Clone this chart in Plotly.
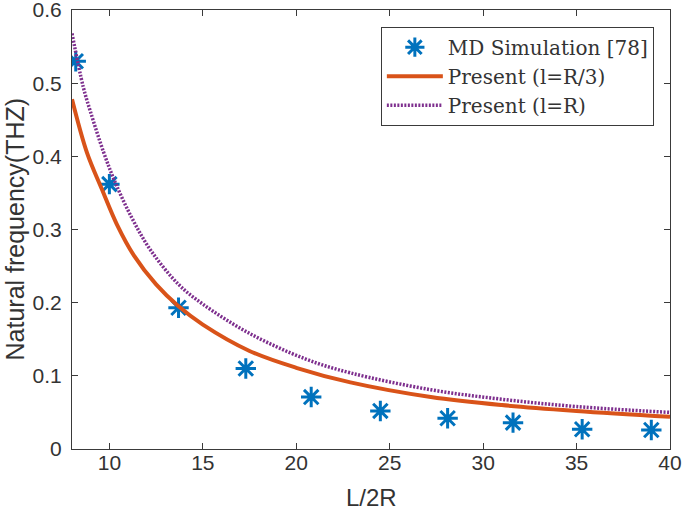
import plotly.graph_objects as go

# MD simulation data
md_x = [8.2, 10.0, 13.7, 17.3, 20.8, 24.5, 28.1, 31.6, 35.3, 39.0]
md_y = [0.530, 0.362, 0.193, 0.110, 0.071, 0.052, 0.042, 0.036, 0.027, 0.026]

# Present (l=R/3)
red_x = [8.0, 8.8, 9.6, 10.4, 11.3, 12.5, 13.7, 15.0, 17.5, 20.0, 22.9, 27.2, 31.0, 35.0, 40.0]
red_y = [0.478, 0.405, 0.355, 0.307, 0.265, 0.225, 0.195, 0.170, 0.134, 0.111, 0.091, 0.071, 0.060, 0.052, 0.044]

# Present (l=R)
pur_x = [8.0, 8.6, 9.0, 9.7, 10.3, 11.2, 12.2, 13.7, 15.0, 17.5, 20.5, 22.9, 27.2, 31.0, 35.0, 40.0]
pur_y = [0.568, 0.495, 0.460, 0.405, 0.365, 0.316, 0.272, 0.225, 0.198, 0.158, 0.123, 0.104, 0.081, 0.068, 0.058, 0.050]

x_ticks = [10, 15, 20, 25, 30, 35, 40]
y_ticks = [0, 0.1, 0.2, 0.3, 0.4, 0.5, 0.6]

x_title = "L/2R"
y_title = "Natural frequency(THZ)"

fig = go.Figure()
fig.add_trace(go.Scatter(
    x=md_x, y=md_y, mode="markers", name="MD Simulation [78]",
    marker=dict(symbol="asterisk-open", size=17, color="#0072BD",
                line=dict(color="#0072BD", width=3)),
))
fig.add_trace(go.Scatter(
    x=red_x, y=red_y, mode="lines", name="Present (l=R/3)",
    line=dict(color="#D95319", width=4, shape="spline"),
))
fig.add_trace(go.Scatter(
    x=pur_x, y=pur_y, mode="lines", name="Present (l=R)",
    line=dict(color="#7E2F8E", width=3.5, dash="2px,1.5px", shape="spline"),
))

sans = "Liberation Sans, Arial, sans-serif"
axis_common = dict(
    showline=True, linecolor="#3a3a3a", linewidth=1.2, mirror="ticks",
    ticks="inside", ticklen=6, tickcolor="#3a3a3a",
    showgrid=False, zeroline=False, automargin=False,
    ticklabeloverflow="allow",
    tickfont=dict(family=sans, size=21, color="#333333"),
)

fig.update_layout(
    width=685, height=517,
    margin=dict(l=72, r=15, t=10, b=68),
    plot_bgcolor="white", paper_bgcolor="white",
    xaxis=dict(range=[8, 40], tickvals=x_ticks, ticklabelstandoff=-5, **axis_common),
    yaxis=dict(range=[0, 0.6], tickvals=y_ticks, tickformat=".1~f", ticklabelstandoff=5,
               **axis_common),
    legend=dict(
        x=0.973, y=0.962, xanchor="right", yanchor="top",
        bgcolor="white", bordercolor="#3a3a3a", borderwidth=1,
        font=dict(family="DejaVu Serif, Liberation Serif, serif", size=20, color="#333333"),
        tracegroupgap=0, itemwidth=56,
    ),
    showlegend=True,
    annotations=[
        dict(text=y_title, textangle=-90, xref="paper", yref="paper", x=0, y=0.5,
             xanchor="center", yanchor="middle", xshift=-58, showarrow=False,
             font=dict(family=sans, size=25, color="#333333")),
        dict(text=x_title, xref="paper", yref="paper", x=0.5, y=0,
             xanchor="center", yanchor="middle", yshift=-48, showarrow=False,
             font=dict(family=sans, size=24, color="#333333")),
    ],
)

# remove the default 8px page margin so the figure fills the window exactly
fig.write_html("out.html", config={"displayModeBar": False},
               post_script="document.body.style.margin='0';")
